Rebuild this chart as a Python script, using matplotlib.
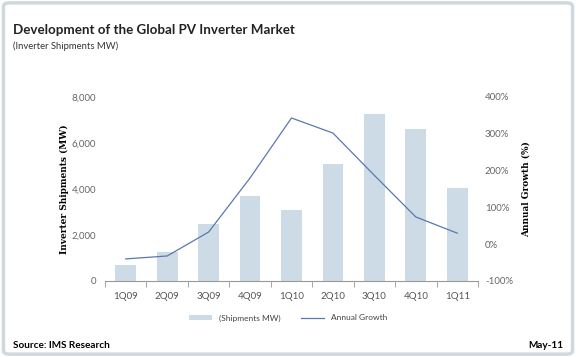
import matplotlib.pyplot as plt
from matplotlib.patches import FancyBboxPatch
import numpy as np

quarters = ['1Q09', '2Q09', '3Q09', '4Q09', '1Q10', '2Q10', '3Q10', '4Q10', '1Q11']
shipments = [700, 1270, 2480, 3700, 3090, 5100, 7260, 6600, 4040]
growth = [-40, -32, 33, 180, 343, 302, 187, 74, 30]

plt.rcParams['font.family'] = ['Lato', 'DejaVu Sans']

dpi = 100
fig = plt.figure(figsize=(5.76, 3.57), dpi=dpi)
fig.patch.set_facecolor('white')

# outer border
fig.patches.append(FancyBboxPatch((0.006, 0.008), 0.988, 0.984, boxstyle='round,pad=0,rounding_size=0.01',
                                  transform=fig.transFigure, fill=False, edgecolor='#cfd8dc', linewidth=2.5))

ax = fig.add_axes([105 / 576, 1 - 281 / 357, 373 / 576, 184 / 357])
x = np.arange(len(quarters))
ax.bar(x, shipments, width=0.5, color='#ccdbe5', label='(Shipments MW)', zorder=1)
ax.set_xlim(-0.5, len(quarters) - 0.5)
ax.set_ylim(0, 8000)
ax.set_yticks(range(0, 8001, 2000))
ax.set_yticklabels(['{:,}'.format(v) for v in range(0, 8001, 2000)])
ax.set_xticks(x)
ax.set_xticklabels(quarters)
ax.set_xticks(np.arange(-0.5, len(quarters), 1), minor=True)
ax.tick_params(axis='x', which='major', length=0, pad=8, labelsize=7, labelcolor='#555555')
ax.tick_params(axis='x', which='minor', length=4, color='#999999', direction='out')
ax.tick_params(axis='y', length=0, labelsize=7, labelcolor='#666666', pad=6.5)
for s in ['top', 'left', 'right']:
    ax.spines[s].set_visible(False)
ax.spines['bottom'].set_color('#999999')
ax.set_ylabel('Inverter Shipments (MW)', family='DejaVu Serif', fontweight='bold', fontsize=6.5, labelpad=2)

ax2 = ax.twinx()
ax2.plot(x, growth, color='#5a78b0', linewidth=0.9, label='Annual Growth')
ax2.set_ylim(-100, 400)
ax2.set_yticks(range(-100, 401, 100))
ax2.set_yticklabels(['{}%'.format(v) for v in range(-100, 401, 100)])
ax2.tick_params(axis='y', length=0, labelsize=7, labelcolor='#666666', pad=5)
for s in ['top', 'left', 'right', 'bottom']:
    ax2.spines[s].set_visible(False)
ax2.set_ylabel('Annual Growth (%)', family='DejaVu Serif', fontweight='bold', fontsize=6.5, labelpad=6)

h1, l1 = ax.get_legend_handles_labels()
h2, l2 = ax2.get_legend_handles_labels()
fig.legend(h1 + h2, l1 + l2, loc='center', bbox_to_anchor=(0.5, 1 - 318 / 357), ncol=2,
           frameon=False, fontsize=6, handlelength=2.8, columnspacing=2.5, handleheight=0.5,
           labelcolor='#444444')

fig.text(13 / 576, 1 - 30 / 357, 'Development of the Global PV Inverter Market', fontsize=9.6,
         fontweight='bold', color='#222222', va='center')
fig.text(13 / 576, 1 - 46 / 357, '(Inverter Shipments MW)', fontsize=6.8, color='#333333', va='center')
fig.text(13 / 576, 1 - 346 / 357, 'Source: IMS Research', fontsize=7.2, fontweight='bold', va='center')
fig.text(563 / 576, 1 - 346 / 357, 'May-11', fontsize=7.2, fontweight='bold', va='center', ha='right')

fig.savefig('out.png', dpi=dpi)
